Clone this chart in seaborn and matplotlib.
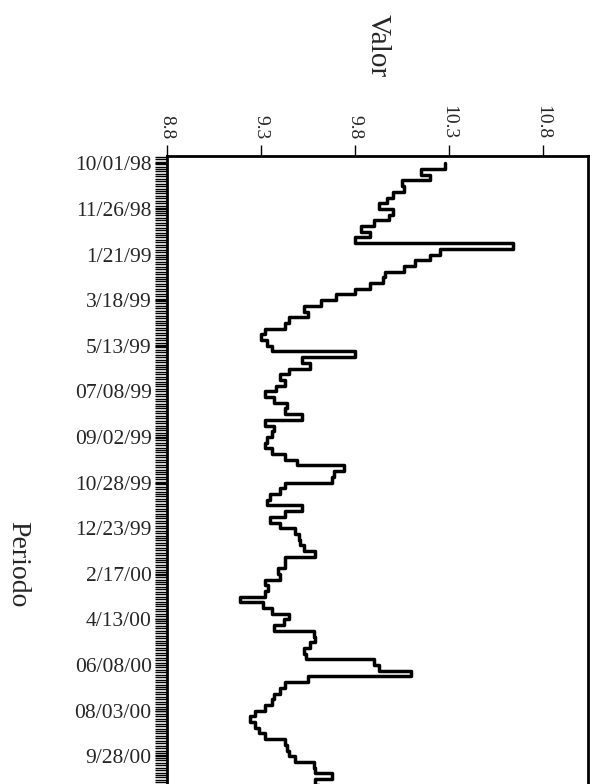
import datetime as dt
import pandas as pd
import matplotlib
matplotlib.use("Agg")
import matplotlib.pyplot as plt
import matplotlib.dates as mdates
import seaborn as sns

# weekly readings (Thursdays) from 10/01/98
inicio = "1998-10-01"
valor = [
    10.28, 10.15, 10.20, 10.05, 10.06, 10.00, 9.97, 9.93, 10.00, 9.98,
    9.90, 9.83, 9.88, 9.80, 10.64, 10.25, 10.20, 10.12, 10.06, 9.96,
    9.95, 9.88, 9.80, 9.70, 9.62, 9.53, 9.55, 9.45, 9.43, 9.32,
    9.30, 9.33, 9.36, 9.80, 9.52, 9.56, 9.45, 9.40, 9.43, 9.38,
    9.32, 9.37, 9.44, 9.43, 9.52, 9.32, 9.37, 9.36, 9.33, 9.32,
    9.36, 9.43, 9.49, 9.74, 9.69, 9.68, 9.43, 9.40, 9.35, 9.33,
    9.52, 9.43, 9.35, 9.40, 9.48, 9.50, 9.51, 9.53, 9.59, 9.43,
    9.43, 9.39, 9.40, 9.32, 9.34, 9.32, 9.19, 9.31, 9.36, 9.45,
    9.42, 9.37, 9.58, 9.59, 9.56, 9.53, 9.54, 9.90, 9.93, 10.10,
    9.55, 9.43, 9.40, 9.37, 9.36, 9.32, 9.27, 9.24, 9.27, 9.29,
    9.32, 9.43, 9.44, 9.45, 9.48, 9.58, 9.59, 9.68, 9.59, 9.61,
]
fechas = pd.date_range(inicio, periods=len(valor), freq="7D")

etiquetas_fecha = ["10/01/98", "11/26/98", "1/21/99", "3/18/99", "5/13/99",
                   "07/08/99", "09/02/99", "10/28/99", "12/23/99", "2/17/00",
                   "4/13/00", "06/08/00", "08/03/00", "9/28/00"]
ticks_valor = [8.8, 9.3, 9.8, 10.3, 10.8]

df = pd.DataFrame({"Periodo": fechas, "Valor": valor})

sns.set_style("white")
plt.rcParams["font.family"] = ["Liberation Serif", "DejaVu Serif"]

fig = plt.figure(figsize=(6, 7.84), dpi=100)
ax = fig.add_axes([0.2783, -0.002, 0.7017, 0.803])

sns.lineplot(data=df, x="Valor", y="Periodo", orient="y", estimator=None,
             drawstyle="steps-pre", color="black", lw=2.5, ax=ax)

fechas_tick = [dt.datetime.strptime(s, "%m/%d/%y") for s in etiquetas_fecha]
ax.set_yticks(fechas_tick)
ax.set_yticklabels(etiquetas_fecha, fontsize=15.5)
ax.yaxis.set_minor_locator(mdates.DayLocator(interval=3))
ax.set_ylim(pd.Timestamp("2000-11-03"), pd.Timestamp("1998-09-22"))

ax.xaxis.tick_top()
ax.set_xlim(8.8, 11.04)
ax.set_xticks(ticks_valor)
ax.set_xticklabels([f"{v:.1f}" for v in ticks_valor], rotation=-90,
                   fontsize=14, va="bottom", ha="center")

ax.tick_params(axis="x", which="major", direction="out", length=8, width=1,
               pad=4, top=True, bottom=False, color="black")
ax.tick_params(axis="y", which="major", direction="out", length=9, width=1,
               pad=2, left=True, color="black")
ax.tick_params(axis="y", which="minor", direction="out", length=9, width=1,
               left=True, color="black")

for s in ax.spines.values():
    s.set_color("black")
    s.set_linewidth(2)

ax.xaxis.set_label_position("top")
ax.set_xlabel("Valor", rotation=-90, fontsize=21)
ax.xaxis.label.set_va("center")
ax.xaxis.label.set_ha("center")
ax.xaxis.set_label_coords(0.5, 1.176)
ax.set_ylabel("Periodo", rotation=-90, fontsize=20)
ax.yaxis.label.set_va("center")
ax.yaxis.label.set_ha("center")
ax.yaxis.set_label_coords(-0.354, 0.352)

fig.savefig("out.png", dpi=100, facecolor="white")
